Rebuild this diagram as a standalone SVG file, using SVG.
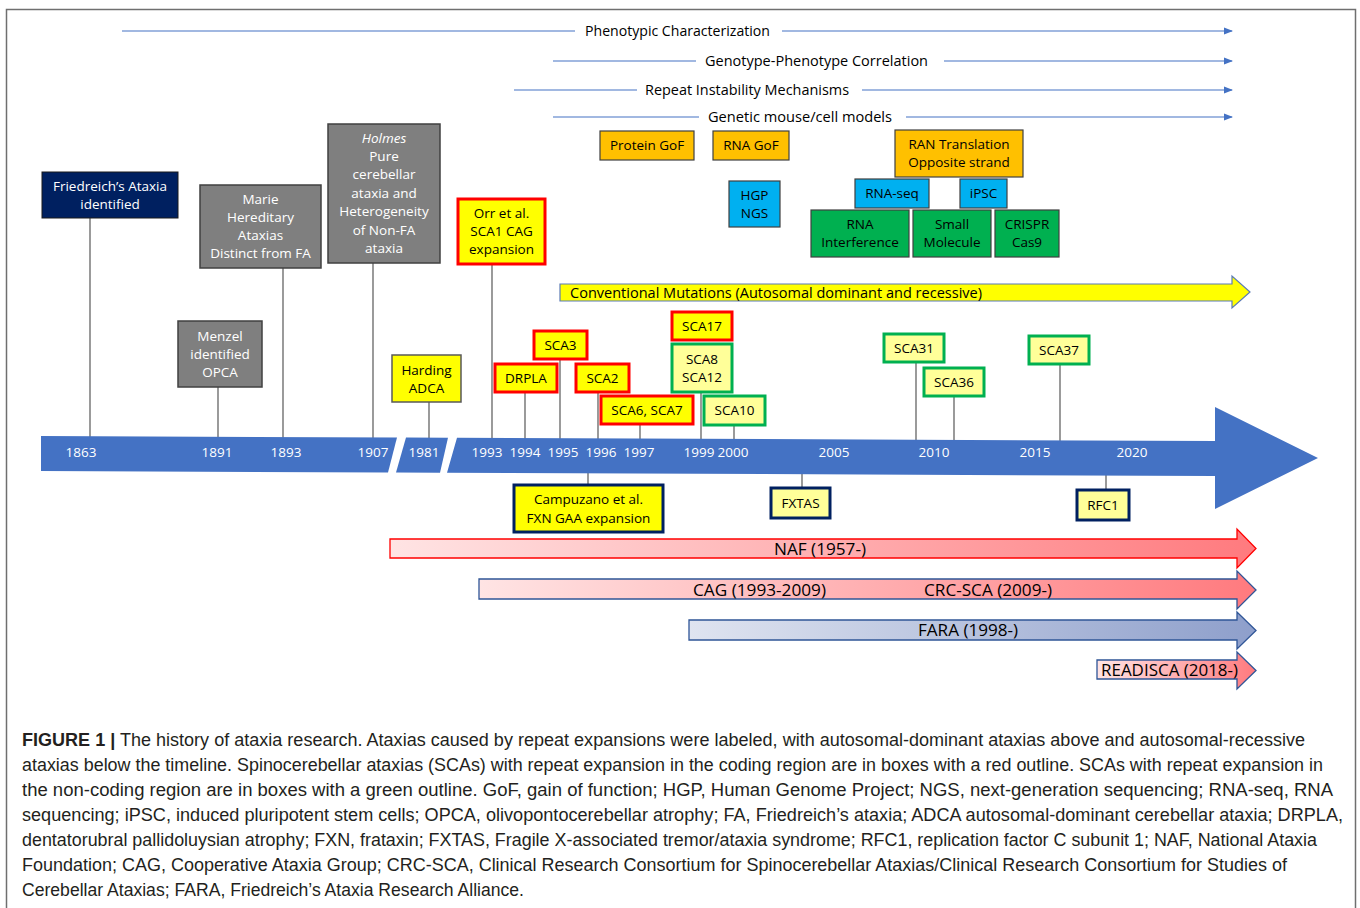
<svg xmlns="http://www.w3.org/2000/svg" width="1360" height="908" viewBox="0 0 1360 908">
<defs>
<style>
.t{font-family:"Open Sans","Liberation Sans",sans-serif;font-size:13.5px;text-anchor:middle;fill:#000}
.w{fill:#fff}
.yr{font-family:"Open Sans","Liberation Sans",sans-serif;font-size:13.5px;fill:#fff;text-anchor:middle}
.lbl{font-family:"Open Sans","Liberation Sans",sans-serif;font-size:14px;fill:#000}
.bar{font-family:"Open Sans","Liberation Sans",sans-serif;font-size:16.5px;fill:#000}
.cap{font-family:"Liberation Sans",Arial,sans-serif;font-size:17.5px;fill:#231f20}
.conn{stroke:#595959;stroke-width:1.2;fill:none}
.topl{stroke:#4472c4;stroke-width:1.2;fill:none}
.red{fill:#ffff00;stroke:#ff0000;stroke-width:3}
.grn{fill:#ffff99;stroke:#00b050;stroke-width:3}
.navy{stroke:#002060;stroke-width:3}
.gray{fill:#7f7f7f;stroke:#404040;stroke-width:1.5}
.org{fill:#ffc000;stroke:#404040;stroke-width:1.2}
.blu{fill:#00b0f0;stroke:#404040;stroke-width:1.2}
.gr{fill:#00b050;stroke:#404040;stroke-width:1.2}
.tl{fill:#4472c4}
</style>
<marker id="ah" markerWidth="9" markerHeight="8" refX="8" refY="4" orient="auto" markerUnits="userSpaceOnUse"><path d="M0,0.5 L9,4 L0,7.5z" fill="#4472c4"/></marker>
<linearGradient id="pink" x1="0" y1="0" x2="1" y2="0"><stop offset="0" stop-color="#ffe4e4"/><stop offset="1" stop-color="#ff7a7e"/></linearGradient>
<linearGradient id="bluegr" x1="0" y1="0" x2="1" y2="0"><stop offset="0" stop-color="#dfe4f0"/><stop offset="1" stop-color="#8e9fcb"/></linearGradient>
</defs>
<rect x="0" y="0" width="1360" height="908" fill="#fff"/>
<rect x="6.5" y="9.5" width="1349" height="910" fill="none" stroke="#6f6f6f" stroke-width="1.5"/>

<g id="top-lines">
<path class="topl" d="M122,31 H575"/><path class="topl" d="M782,31 H1232" marker-end="url(#ah)"/>
<text class="lbl" x="585" y="36" textLength="185" lengthAdjust="spacingAndGlyphs">Phenotypic Characterization</text>
<path class="topl" d="M553,61 H696"/><path class="topl" d="M944,61 H1232" marker-end="url(#ah)"/>
<text class="lbl" x="705" y="66" textLength="223" lengthAdjust="spacingAndGlyphs">Genotype-Phenotype Correlation</text>
<path class="topl" d="M514,90 H637"/><path class="topl" d="M862,90 H1232" marker-end="url(#ah)"/>
<text class="lbl" x="645" y="95" textLength="204" lengthAdjust="spacingAndGlyphs">Repeat Instability Mechanisms</text>
<path class="topl" d="M553,117 H699"/><path class="topl" d="M906,117 H1232" marker-end="url(#ah)"/>
<text class="lbl" x="708" y="122" textLength="184" lengthAdjust="spacingAndGlyphs">Genetic mouse/cell models</text>
</g>

<g id="connectors">
<path class="conn" d="M90,218 V440 M283,268 V440 M218,387 V440 M373,263 V440 M429,402 V440 M492,264 V441 M525,392 V441 M560,359 V441 M598,392 V441 M640,424 V441 M701,392 V442 M734,425 V442 M916,362 V443 M954,396 V443 M1060,364 V444"/>
<path class="conn" d="M588,468 V485 M802,470 V488 M1106,472 V490"/>
</g>

<g id="timeline">
<polygon class="tl" points="41,436 397,437.5 388,472.5 41,471"/>
<polygon class="tl" points="406,437.6 448,437.8 440,472.8 396,472.6"/>
<polygon class="tl" points="457,437.8 1215,441 1215,407 1318,458 1215,509 1215,476 447,472.8"/>
<text class="yr" x="81" y="456.5">1863</text>
<text class="yr" x="217" y="456.5">1891</text>
<text class="yr" x="286" y="456.5">1893</text>
<text class="yr" x="373" y="456.5">1907</text>
<text class="yr" x="424" y="456.5">1981</text>
<text class="yr" x="487" y="456.5">1993</text>
<text class="yr" x="525" y="456.5">1994</text>
<text class="yr" x="563" y="456.5">1995</text>
<text class="yr" x="601" y="456.5">1996</text>
<text class="yr" x="639" y="456.5">1997</text>
<text class="yr" x="699" y="456.5">1999</text>
<text class="yr" x="733" y="456.5">2000</text>
<text class="yr" x="834" y="456.5">2005</text>
<text class="yr" x="934" y="456.5">2010</text>
<text class="yr" x="1035" y="456.5">2015</text>
<text class="yr" x="1132" y="456.5">2020</text>
</g>

<g id="friedreich"><rect x="42" y="172" width="136" height="46" fill="#002060" stroke="#1a1a1a" stroke-width="1"/>
<text class="t w" x="110" y="190.5">Friedreich’s Ataxia<tspan x="110" dy="18">identified</tspan></text></g>

<g id="marie"><rect class="gray" x="200" y="185" width="121" height="83"/>
<text class="t w" x="260.5" y="203.5">Marie<tspan x="260.5" dy="18.3">Hereditary</tspan><tspan x="260.5" dy="18.3">Ataxias</tspan><tspan x="260.5" dy="18.3">Distinct from FA</tspan></text></g>

<g id="menzel"><rect class="gray" x="178" y="321" width="84" height="66"/>
<text class="t w" x="220" y="340.5">Menzel<tspan x="220" dy="18">identified</tspan><tspan x="220" dy="18">OPCA</tspan></text></g>

<g id="holmes"><rect class="gray" x="328" y="124" width="112" height="139"/>
<text class="t w" x="384" y="142.5"><tspan font-style="italic">Holmes</tspan><tspan x="384" dy="18.4">Pure</tspan><tspan x="384" dy="18.4">cerebellar</tspan><tspan x="384" dy="18.4">ataxia and</tspan><tspan x="384" dy="18.4">Heterogeneity</tspan><tspan x="384" dy="18.4">of Non-FA</tspan><tspan x="384" dy="18.4">ataxia</tspan></text></g>

<g id="harding"><rect x="392" y="355" width="69" height="47" fill="#ffff00" stroke="#595959" stroke-width="1.5"/>
<text class="t" x="426.5" y="374.5">Harding<tspan x="426.5" dy="18">ADCA</tspan></text></g>

<g id="orr"><rect class="red" x="458" y="199" width="87" height="65"/>
<text class="t" x="501.5" y="217.5">Orr et al.<tspan x="501.5" dy="18.3">SCA1 CAG</tspan><tspan x="501.5" dy="18.3">expansion</tspan></text></g>

<g id="drpla"><rect class="red" x="495" y="364" width="62" height="28"/><text class="t" x="526" y="382.5">DRPLA</text></g>
<g id="sca3"><rect class="red" x="534" y="331" width="53" height="28"/><text class="t" x="560.5" y="349.5">SCA3</text></g>
<g id="sca2"><rect class="red" x="576" y="364" width="53" height="28"/><text class="t" x="602.5" y="382.5">SCA2</text></g>
<g id="sca6-7"><rect class="red" x="601" y="396" width="92" height="28"/><text class="t" x="647" y="414.5">SCA6, SCA7</text></g>
<g id="sca17"><rect class="red" x="672" y="312" width="60" height="28"/><text class="t" x="702" y="330.5">SCA17</text></g>
<g id="sca8-12"><rect class="grn" x="672" y="344" width="60" height="48"/><text class="t" x="702" y="363.5">SCA8<tspan x="702" dy="18">SCA12</tspan></text></g>
<g id="sca10"><rect class="grn" x="704" y="396" width="61" height="29"/><text class="t" x="734.5" y="415">SCA10</text></g>
<g id="sca31"><rect class="grn" x="884" y="334" width="60" height="28"/><text class="t" x="914" y="352.5">SCA31</text></g>
<g id="sca36"><rect class="grn" x="924" y="368" width="60" height="28"/><text class="t" x="954" y="386.5">SCA36</text></g>
<g id="sca37"><rect class="grn" x="1029" y="336" width="60" height="28"/><text class="t" x="1059" y="354.5">SCA37</text></g>

<g id="campuzano"><rect class="navy" x="514" y="485" width="149" height="47" fill="#ffff00"/>
<text class="t" x="588.5" y="504">Campuzano et al.<tspan x="588.5" dy="18.5">FXN GAA expansion</tspan></text></g>
<g id="fxtas"><rect class="navy" x="771" y="488" width="59" height="30" fill="#ffff99"/><text class="t" x="800.5" y="507.5">FXTAS</text></g>
<g id="rfc1"><rect class="navy" x="1077" y="490" width="52" height="30" fill="#ffff99"/><text class="t" x="1103" y="509.5">RFC1</text></g>

<g id="protein-gof"><rect class="org" x="600" y="131" width="94" height="29"/><text class="t" x="647" y="150">Protein GoF</text></g>
<g id="rna-gof"><rect class="org" x="713" y="131" width="76" height="29"/><text class="t" x="751" y="150">RNA GoF</text></g>
<g id="ran"><rect class="org" x="895" y="130" width="128" height="47"/><text class="t" x="959" y="148.5">RAN Translation<tspan x="959" dy="18">Opposite strand</tspan></text></g>
<g id="hgp"><rect class="blu" x="729" y="181" width="51" height="46"/><text class="t" x="754.5" y="199.5">HGP<tspan x="754.5" dy="18">NGS</tspan></text></g>
<g id="rna-seq"><rect class="blu" x="855" y="179" width="74" height="29"/><text class="t" x="892" y="198">RNA-seq</text></g>
<g id="ipsc"><rect class="blu" x="960" y="179" width="47" height="29"/><text class="t" x="983.5" y="198">iPSC</text></g>
<g id="rnai"><rect class="gr" x="811" y="210" width="98" height="47"/><text class="t" x="860" y="229">RNA<tspan x="860" dy="18">Interference</tspan></text></g>
<g id="small-molecule"><rect class="gr" x="913" y="210" width="78" height="47"/><text class="t" x="952" y="229">Small<tspan x="952" dy="18">Molecule</tspan></text></g>
<g id="crispr"><rect class="gr" x="995" y="210" width="64" height="47"/><text class="t" x="1027" y="229">CRISPR<tspan x="1027" dy="18">Cas9</tspan></text></g>

<g id="conventional">
<path d="M560,284 H1232 V276 L1250,292 L1232,308 V301 H560 Z" fill="#ffff00" stroke="#5b7bb5" stroke-width="1.2"/>
<text class="lbl" x="570" y="297.5" textLength="412" lengthAdjust="spacingAndGlyphs">Conventional Mutations (Autosomal dominant and recessive)</text>
</g>

<g id="naf">
<path d="M390,539 H1237 V529 L1256,548.5 L1237,568 V558 H390 Z" fill="url(#pink)" stroke="#ff0000" stroke-width="1.3"/>
<text class="bar" x="774" y="554.5" textLength="92" lengthAdjust="spacingAndGlyphs">NAF (1957-)</text>
</g>
<g id="cag">
<path d="M479,579 H1237 V571 L1256,590 L1237,609 V599 H479 Z" fill="url(#pink)" stroke="#2f5597" stroke-width="1.3"/>
<text class="bar" x="693" y="595.5" textLength="133" lengthAdjust="spacingAndGlyphs">CAG (1993-2009)</text>
<text class="bar" x="924" y="595.5" textLength="128" lengthAdjust="spacingAndGlyphs">CRC-SCA (2009-)</text>
</g>
<g id="fara">
<path d="M689,620 H1237 V612 L1256,630.5 L1237,649 V640 H689 Z" fill="url(#bluegr)" stroke="#2f5597" stroke-width="1.3"/>
<text class="bar" x="918" y="636" textLength="100" lengthAdjust="spacingAndGlyphs">FARA (1998-)</text>
</g>
<g id="readisca">
<path d="M1097,660 H1237 V652 L1256,670.5 L1237,689 V679 H1097 Z" fill="url(#pink)" stroke="#2f5597" stroke-width="1.3"/>
<text class="bar" x="1101" y="676" textLength="137" lengthAdjust="spacingAndGlyphs">READISCA (2018-)</text>
</g>

<g id="caption">
<text class="cap" x="22" y="746" textLength="1283" lengthAdjust="spacingAndGlyphs"><tspan font-weight="bold">FIGURE 1 |</tspan> The history of ataxia research. Ataxias caused by repeat expansions were labeled, with autosomal-dominant ataxias above and autosomal-recessive</text>
<text class="cap" x="22" y="771" textLength="1301" lengthAdjust="spacingAndGlyphs">ataxias below the timeline. Spinocerebellar ataxias (SCAs) with repeat expansion in the coding region are in boxes with a red outline. SCAs with repeat expansion in</text>
<text class="cap" x="22" y="796" textLength="1311" lengthAdjust="spacingAndGlyphs">the non-coding region are in boxes with a green outline. GoF, gain of function; HGP, Human Genome Project; NGS, next-generation sequencing; RNA-seq, RNA</text>
<text class="cap" x="22" y="821" textLength="1321" lengthAdjust="spacingAndGlyphs">sequencing; iPSC, induced pluripotent stem cells; OPCA, olivopontocerebellar atrophy; FA, Friedreich’s ataxia; ADCA autosomal-dominant cerebellar ataxia; DRPLA,</text>
<text class="cap" x="22" y="846" textLength="1295" lengthAdjust="spacingAndGlyphs">dentatorubral pallidoluysian atrophy; FXN, frataxin; FXTAS, Fragile X-associated tremor/ataxia syndrome; RFC1, replication factor C subunit 1; NAF, National Ataxia</text>
<text class="cap" x="22" y="871" textLength="1265" lengthAdjust="spacingAndGlyphs">Foundation; CAG, Cooperative Ataxia Group; CRC-SCA, Clinical Research Consortium for Spinocerebellar Ataxias/Clinical Research Consortium for Studies of</text>
<text class="cap" x="22" y="896" textLength="502" lengthAdjust="spacingAndGlyphs">Cerebellar Ataxias; FARA, Friedreich’s Ataxia Research Alliance.</text>
</g>
</svg>
